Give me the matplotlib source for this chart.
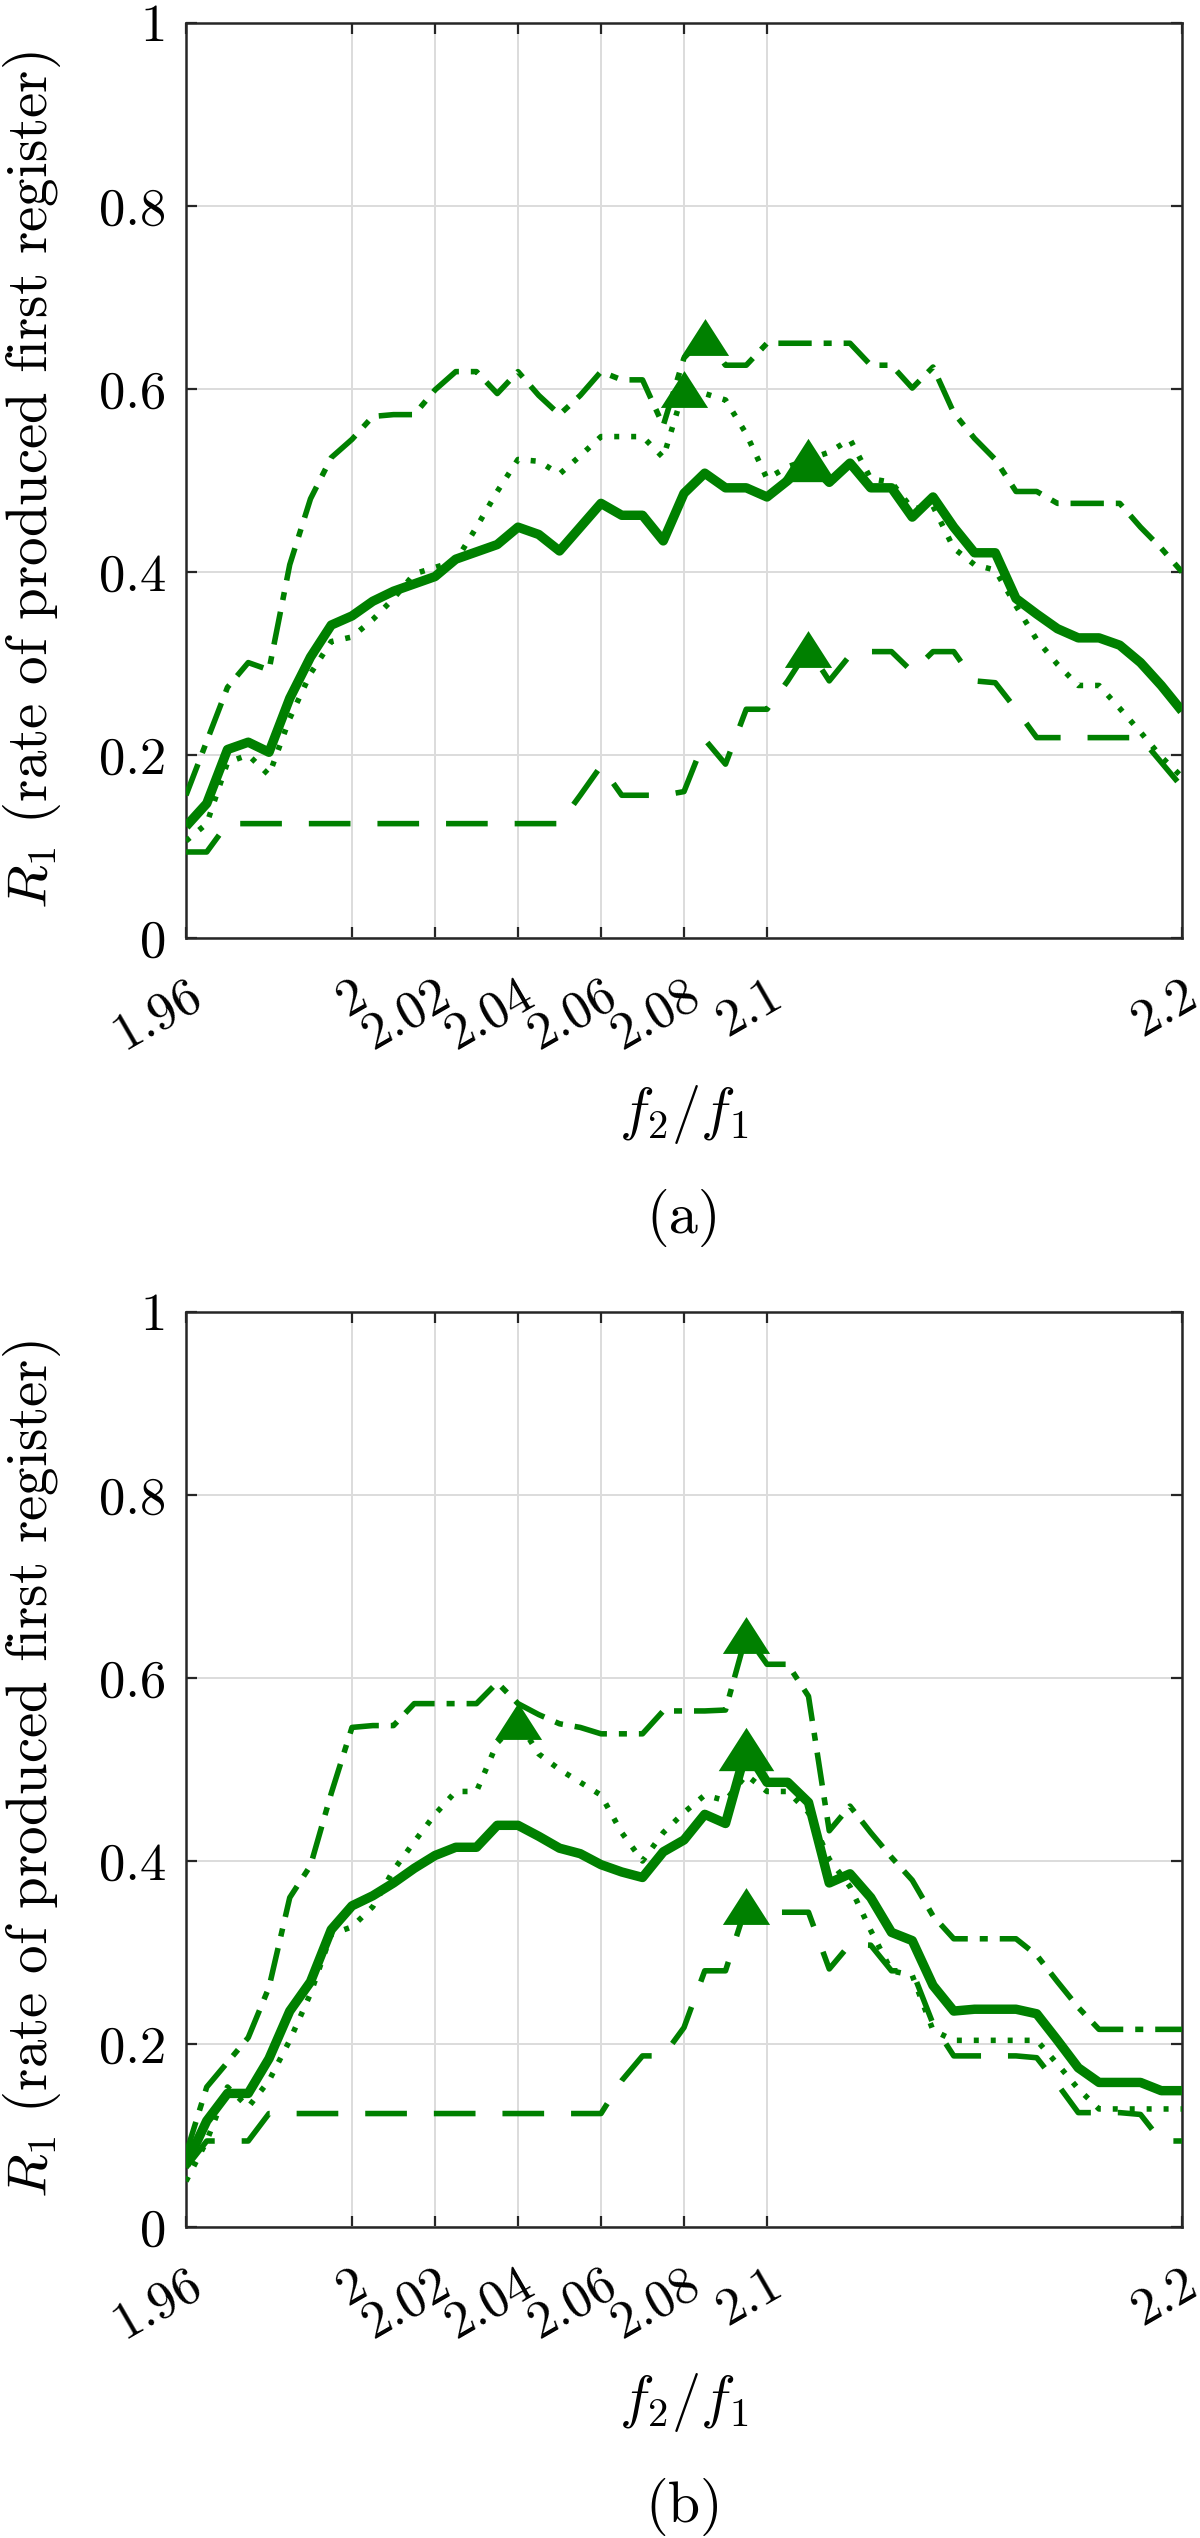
import numpy as np
import matplotlib
matplotlib.use('Agg')
import matplotlib.pyplot as plt
from matplotlib.transforms import ScaledTranslation

plt.rcParams['font.family'] = 'serif'
plt.rcParams['font.serif'] = ['cmr10']
plt.rcParams['mathtext.fontset'] = 'cm'
plt.rcParams['axes.unicode_minus'] = False

# f2/f1 samples
ratio = [1.96, 1.965, 1.97, 1.975, 1.98, 1.985, 1.99, 1.995, 2.0, 2.005,
         2.01, 2.015, 2.02, 2.025, 2.03, 2.035, 2.04, 2.045, 2.05, 2.055,
         2.06, 2.065, 2.07, 2.075, 2.08, 2.085, 2.09, 2.095, 2.1, 2.105,
         2.11, 2.115, 2.12, 2.125, 2.13, 2.135, 2.14, 2.145, 2.15, 2.155,
         2.16, 2.165, 2.17, 2.175, 2.18, 2.185, 2.19, 2.195, 2.2]

# panel (a)
a_solid = [0.122, 0.147, 0.206, 0.214, 0.203, 0.262, 0.307, 0.342, 0.352, 0.368,
           0.379, 0.387, 0.395, 0.414, 0.422, 0.430, 0.449, 0.441, 0.423, 0.449,
           0.475, 0.462, 0.462, 0.434, 0.486, 0.508, 0.492, 0.492, 0.482, 0.500,
           0.522, 0.498, 0.519, 0.492, 0.492, 0.460, 0.482, 0.449, 0.421, 0.421,
           0.371, 0.354, 0.338, 0.328, 0.328, 0.320, 0.301, 0.276, 0.248]
a_dotted = [0.106, 0.125, 0.192, 0.200, 0.178, 0.240, 0.289, 0.324, 0.329, 0.348,
            0.371, 0.398, 0.405, 0.412, 0.449, 0.488, 0.523, 0.521, 0.507, 0.527,
            0.548, 0.548, 0.548, 0.525, 0.600, 0.595, 0.588, 0.551, 0.502, 0.515,
            0.523, 0.531, 0.545, 0.502, 0.498, 0.469, 0.472, 0.426, 0.408, 0.402,
            0.363, 0.326, 0.299, 0.276, 0.276, 0.251, 0.225, 0.198, 0.176]
a_dashdot = [0.156, 0.215, 0.274, 0.301, 0.293, 0.408, 0.480, 0.525, 0.545, 0.570,
             0.572, 0.572, 0.599, 0.619, 0.619, 0.595, 0.619, 0.593, 0.572, 0.593,
             0.619, 0.610, 0.610, 0.560, 0.634, 0.657, 0.626, 0.626, 0.650, 0.650,
             0.650, 0.650, 0.650, 0.626, 0.626, 0.601, 0.624, 0.574, 0.546, 0.523,
             0.488, 0.488, 0.475, 0.475, 0.475, 0.475, 0.449, 0.426, 0.400]
a_dashed = [0.094, 0.094, 0.125, 0.125, 0.125, 0.125, 0.125, 0.125, 0.125, 0.125,
            0.125, 0.125, 0.125, 0.125, 0.125, 0.125, 0.125, 0.125, 0.125, 0.156,
            0.188, 0.156, 0.156, 0.156, 0.160, 0.217, 0.190, 0.250, 0.250, 0.281,
            0.316, 0.281, 0.309, 0.313, 0.313, 0.291, 0.313, 0.313, 0.281, 0.279,
            0.250, 0.219, 0.219, 0.219, 0.219, 0.219, 0.219, 0.192, 0.165]

# panel (b)
b_solid = [0.068, 0.116, 0.146, 0.146, 0.184, 0.236, 0.268, 0.325, 0.351, 0.362,
           0.376, 0.392, 0.406, 0.415, 0.415, 0.439, 0.439, 0.427, 0.414, 0.408,
           0.396, 0.388, 0.382, 0.410, 0.423, 0.451, 0.441, 0.522, 0.486, 0.486,
           0.464, 0.376, 0.386, 0.360, 0.322, 0.313, 0.264, 0.236, 0.238, 0.238,
           0.238, 0.233, 0.204, 0.174, 0.158, 0.158, 0.158, 0.149, 0.149]
b_dotted = [0.050, 0.094, 0.153, 0.131, 0.160, 0.204, 0.255, 0.320, 0.328, 0.350,
            0.390, 0.421, 0.451, 0.476, 0.476, 0.529, 0.553, 0.517, 0.500, 0.486,
            0.472, 0.431, 0.400, 0.431, 0.453, 0.472, 0.466, 0.494, 0.476, 0.476,
            0.453, 0.402, 0.372, 0.324, 0.280, 0.275, 0.215, 0.204, 0.204, 0.204,
            0.204, 0.204, 0.178, 0.151, 0.129, 0.129, 0.129, 0.129, 0.129]
b_dashdot = [0.080, 0.153, 0.180, 0.207, 0.262, 0.360, 0.395, 0.474, 0.546, 0.548,
             0.548, 0.572, 0.572, 0.572, 0.572, 0.595, 0.572, 0.560, 0.550, 0.546,
             0.539, 0.539, 0.539, 0.564, 0.564, 0.564, 0.565, 0.647, 0.615, 0.615,
             0.580, 0.433, 0.460, 0.431, 0.404, 0.379, 0.340, 0.315, 0.315, 0.315,
             0.315, 0.297, 0.268, 0.240, 0.216, 0.216, 0.216, 0.216, 0.216]
b_dashed = [0.065, 0.094, 0.094, 0.094, 0.124, 0.124, 0.124, 0.124, 0.124, 0.124,
            0.124, 0.124, 0.124, 0.124, 0.124, 0.124, 0.124, 0.124, 0.124, 0.124,
            0.124, 0.160, 0.187, 0.187, 0.218, 0.280, 0.280, 0.351, 0.344, 0.344,
            0.344, 0.282, 0.309, 0.308, 0.280, 0.280, 0.222, 0.187, 0.187, 0.187,
            0.187, 0.185, 0.156, 0.125, 0.125, 0.125, 0.123, 0.094, 0.094]

xticks = [1.96, 2.0, 2.02, 2.04, 2.06, 2.08, 2.1, 2.2]
xticklabels = ['1.96', '2', '2.02', '2.04', '2.06', '2.08', '2.1', '2.2']
yticks = [0, 0.2, 0.4, 0.6, 0.8, 1]
yticklabels = ['0', '0.2', '0.4', '0.6', '0.8', '1']

green = '#008000'
tri = [(0, 0.78), (-1, -0.78), (1, -0.78)]

# line styles (dash lengths in units of line width)
styles = [
    ('dashed', dict(lw=4.0, ls=(0, (7.5, 4.85))), 34),
    ('dotted', dict(lw=4.0, ls=(0, (0.9, 2.15))), 34),
    ('dashdot', dict(lw=4.0, ls=(0, (6.0, 2.15, 1.45, 2.15))), 34),
    ('solid', dict(lw=6.8, ls='-'), 40),
]

fig = plt.figure(figsize=(12, 25.38), dpi=100)
ax_a = fig.add_axes([186 / 1200, 1 - 938 / 2538, 996 / 1200, 915 / 2538])
ax_b = fig.add_axes([186 / 1200, 1 - 2227 / 2538, 996 / 1200, 915 / 2538])

panels = [
    (ax_a, {'solid': a_solid, 'dotted': a_dotted, 'dashdot': a_dashdot, 'dashed': a_dashed}, '(a)'),
    (ax_b, {'solid': b_solid, 'dotted': b_dotted, 'dashdot': b_dashdot, 'dashed': b_dashed}, '(b)'),
]

for ax, series, caption in panels:
    for name, kw, ms in styles:
        y = series[name]
        ax.plot(ratio, y, color=green, solid_capstyle='butt', zorder=3, **kw)
        k = int(np.argmax(y))
        ax.plot(ratio[k], y[k], ls='none', marker=tri, ms=ms, color=green,
                markeredgewidth=0, zorder=5)

    ax.set_xlim(1.96, 2.2)
    ax.set_ylim(0, 1)
    ax.set_xticks(xticks)
    ax.set_yticks(yticks)
    ax.set_yticklabels(yticklabels, fontsize=38)
    ax.set_xticklabels(xticklabels, fontsize=38, rotation=30, ha='right', va='top',
                       rotation_mode='anchor')
    offset = ScaledTranslation(0.2, 0, fig.dpi_scale_trans)
    for lab in ax.get_xticklabels():
        lab.set_transform(lab.get_transform() + offset)

    ax.grid(True, color='#dcdcdc', lw=1.4, zorder=0)
    ax.set_axisbelow(True)
    ax.tick_params(direction='in', length=8, width=1.6, color='#262626',
                   top=True, right=True)
    ax.tick_params(axis='y', pad=14)
    ax.tick_params(axis='x', pad=24)
    for sp in ax.spines.values():
        sp.set_color('#262626')
        sp.set_linewidth(1.8)

    ax.set_xlabel(r'$f_2/f_1$', fontsize=42, va='center')
    ax.xaxis.set_label_coords(0.5, -176 / 915)
    ax.set_ylabel(r'$R_1$ (rate of produced first register)', fontsize=41, va='center')
    ax.yaxis.set_label_coords(-(186 - 32) / 996, 0.5)
    ax.text(0.5, -280 / 915, caption, transform=ax.transAxes, ha='center',
            va='center', fontsize=42)

fig.savefig('out.png', dpi=100)
